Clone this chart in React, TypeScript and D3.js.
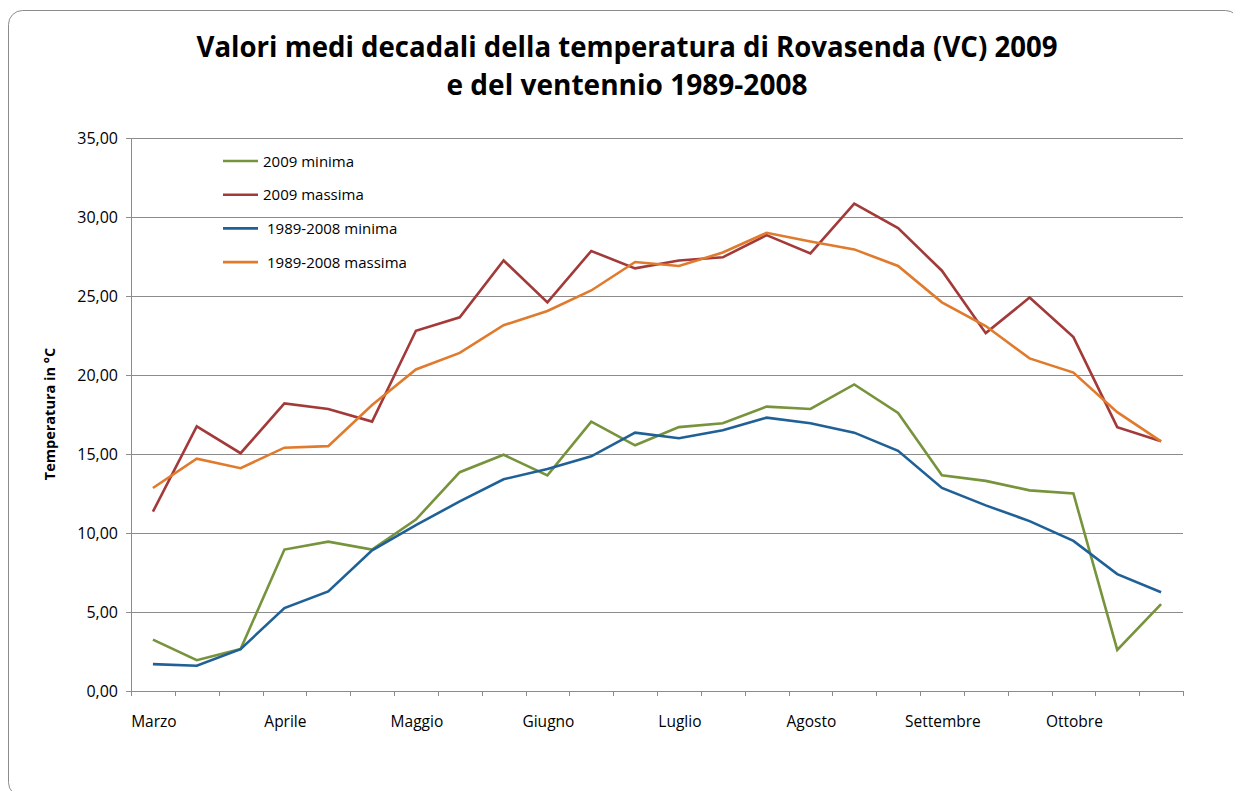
import * as d3 from "d3";

// decades: 3 per month, Marzo..Ottobre
const months = ["Marzo", "Aprile", "Maggio", "Giugno", "Luglio", "Agosto", "Settembre", "Ottobre"];
const decades = months.flatMap((m) => [m + " I", m + " II", m + " III"]);

const min2009 = [3.25, 1.95, 2.65, 8.95, 9.45, 8.95, 10.85, 13.85, 14.95, 13.65, 17.05, 15.55,
  16.7, 16.95, 18.0, 17.85, 19.4, 17.6, 13.65, 13.3, 12.7, 12.5, 2.6, 5.5];
const max2009 = [11.35, 16.75, 15.05, 18.2, 17.85, 17.05, 22.8, 23.65, 27.25, 24.6, 27.85, 26.75,
  27.25, 27.45, 28.85, 27.7, 30.85, 29.3, 26.6, 22.65, 24.9, 22.4, 16.7, 15.8];
const minNorm = [1.7, 1.6, 2.65, 5.25, 6.3, 8.9, 10.5, 12.0, 13.4, 14.05, 14.85, 16.35,
  16.0, 16.5, 17.3, 16.95, 16.35, 15.2, 12.85, 11.75, 10.75, 9.5, 7.4, 6.25];
const maxNorm = [12.85, 14.7, 14.1, 15.4, 15.5, 18.1, 20.35, 21.4, 23.15, 24.05, 25.35, 27.15,
  26.9, 27.75, 29.0, 28.45, 27.95, 26.9, 24.6, 23.1, 21.05, 20.15, 17.65, 15.8];

const yTicks = [0, 5, 10, 15, 20, 25, 30, 35];

const series = [
  { name: "2009 minima", values: min2009, color: "#77933c", pad: "" },
  { name: "2009 massima", values: max2009, color: "#a33a3a", pad: "" },
  { name: "1989-2008 minima", values: minNorm, color: "#1f6196", pad: " " },
  { name: "1989-2008 massima", values: maxNorm, color: "#e07a2c", pad: " " },
];

const FONT = "'Open Sans', 'DejaVu Sans', sans-serif";

export default function App() {
  const W = 1241;
  const H = 799;
  const plot = { left: 131, right: 1183, top: 138, bottom: 691 };

  const x = d3.scaleBand<string>().domain(decades).range([plot.left, plot.right]);
  const y = d3.scaleLinear().domain([0, 35]).range([plot.bottom, plot.top]);
  const cx = (i: number) => (x(decades[i]) ?? 0) + x.bandwidth() / 2;

  const line = d3.line<number>()
    .x((_, i) => cx(i))
    .y((d) => y(d));

  const boundaries = decades.map((d) => x(d) ?? 0).concat([plot.right]);

  return (
    <div style={{ margin: -8 }}>
      <svg width={W} height={H} style={{ display: "block", background: "#fff" }}>
        <rect x={8.5} y={10.5} width={1231} height={786} rx={14} fill="#fff" stroke="#8c8c8c" strokeWidth={1} />

        {/* title */}
        <text x={627} y={57} textAnchor="middle" fontFamily={FONT} fontWeight="bold" fontSize={28}
          textLength={861} lengthAdjust="spacingAndGlyphs" fill="#000">
          Valori medi decadali della temperatura di Rovasenda (VC) 2009
        </text>
        <text x={627} y={95} textAnchor="middle" fontFamily={FONT} fontWeight="bold" fontSize={28}
          textLength={361} lengthAdjust="spacingAndGlyphs" fill="#000">
          e del ventennio 1989-2008
        </text>

        {/* gridlines */}
        {yTicks.map((t) => (
          <g key={t}>
            {t > 0 && (
              <line x1={plot.left} x2={plot.right} y1={Math.round(y(t)) + 0.5} y2={Math.round(y(t)) + 0.5}
                stroke="#8c8c8c" strokeWidth={1} />
            )}
            <line x1={plot.left - 5} x2={plot.left} y1={Math.round(y(t)) + 0.5} y2={Math.round(y(t)) + 0.5}
              stroke="#8c8c8c" strokeWidth={1} />
            <text x={118} y={y(t) + 6} textAnchor="end" fontFamily={FONT} fontSize={16} fill="#000">
              {d3.format(".2f")(t).replace(".", ",")}
            </text>
          </g>
        ))}

        {/* axes */}
        <line x1={plot.left + 0.5} x2={plot.left + 0.5} y1={plot.top} y2={plot.bottom} stroke="#8c8c8c" />
        <line x1={plot.left} x2={plot.right} y1={plot.bottom + 0.5} y2={plot.bottom + 0.5} stroke="#8c8c8c" />
        {boundaries.map((b, i) => (
          <line key={i} x1={Math.round(b) + 0.5} x2={Math.round(b) + 0.5} y1={plot.bottom} y2={plot.bottom + 5}
            stroke="#8c8c8c" />
        ))}
        {months.map((m, i) => (
          <text key={m} x={cx(i * 3) + 1} y={727} textAnchor="middle" fontFamily={FONT} fontSize={15.5} fill="#000">
            {m}
          </text>
        ))}

        <text transform={`translate(55,414) rotate(-90)`} textAnchor="middle" fontFamily={FONT}
          fontWeight="bold" fontSize={14.5} fill="#000">
          Temperatura in °C
        </text>

        {/* lines */}
        {series.map((s) => (
          <path key={s.name} d={line(s.values) ?? ""} fill="none" stroke={s.color} strokeWidth={2.6}
            strokeLinejoin="miter" />
        ))}

        {/* legend */}
        {series.map((s, i) => {
          const ly = 161 + i * 33.7;
          return (
            <g key={s.name}>
              <line x1={223} x2={258} y1={ly} y2={ly} stroke={s.color} strokeWidth={2.6} />
              <text x={s.pad ? 267 : 263} y={ly + 5.5} fontFamily={FONT} fontSize={15} fill="#000">
                {s.name}
              </text>
            </g>
          );
        })}
      </svg>
    </div>
  );
}
